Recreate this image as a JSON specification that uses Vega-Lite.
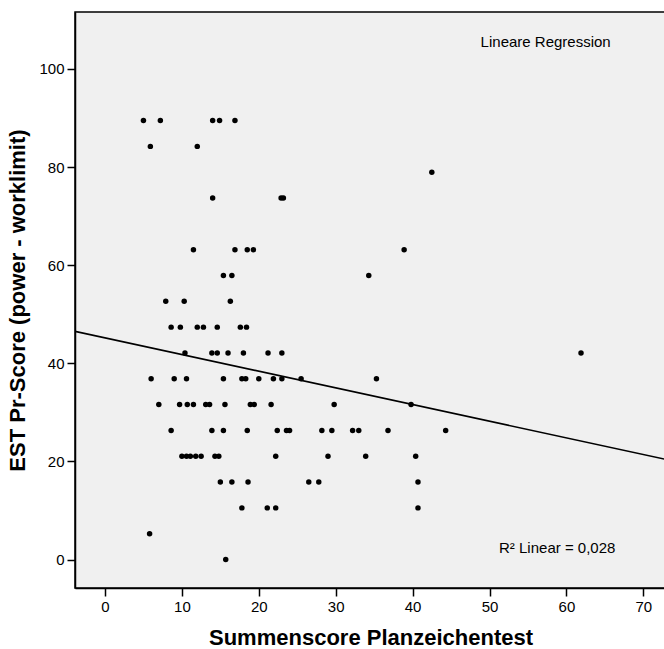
{
  "$schema": "https://vega.github.io/schema/vega-lite/v6.json",
  "width": 591,
  "height": 576,
  "autosize": "none",
  "padding": {"left": 75, "top": 12, "right": 0, "bottom": 61},
  "background": "white",
  "config": {
    "font": "Liberation Sans",
    "view": {"fill": "#f0f0f0", "stroke": "black", "strokeWidth": 1.5},
    "axis": {
      "grid": false,
      "domainColor": "black",
      "domainWidth": 1.5,
      "tickColor": "black",
      "tickWidth": 1.5,
      "tickSize": 8,
      "labelColor": "black",
      "labelFontSize": 15,
      "labelFont": "Liberation Sans",
      "titleColor": "black",
      "titleFont": "Liberation Sans",
      "titleFontSize": 22,
      "titleFontWeight": "bold"
    }
  },
  "datasets": {
    "points": [
      {"score": 5.0, "est": 89.47}, {"score": 7.2, "est": 89.47}, {"score": 14.0, "est": 89.47}, {"score": 14.9, "est": 89.47}, {"score": 16.9, "est": 89.47},
      {"score": 5.9, "est": 84.21}, {"score": 12.0, "est": 84.21},
      {"score": 42.5, "est": 78.95},
      {"score": 14.0, "est": 73.68}, {"score": 22.9, "est": 73.68}, {"score": 23.2, "est": 73.68},
      {"score": 11.5, "est": 63.16}, {"score": 16.9, "est": 63.16}, {"score": 18.5, "est": 63.16}, {"score": 19.3, "est": 63.16}, {"score": 38.9, "est": 63.16},
      {"score": 15.4, "est": 57.89}, {"score": 16.5, "est": 57.89}, {"score": 34.3, "est": 57.89},
      {"score": 7.9, "est": 52.63}, {"score": 10.3, "est": 52.63}, {"score": 16.3, "est": 52.63},
      {"score": 8.6, "est": 47.37}, {"score": 9.8, "est": 47.37}, {"score": 12.0, "est": 47.37}, {"score": 12.8, "est": 47.37}, {"score": 14.6, "est": 47.37}, {"score": 17.6, "est": 47.37}, {"score": 18.4, "est": 47.37},
      {"score": 10.4, "est": 42.11}, {"score": 13.9, "est": 42.11}, {"score": 14.6, "est": 42.11}, {"score": 16.0, "est": 42.11}, {"score": 18.0, "est": 42.11}, {"score": 21.2, "est": 42.11}, {"score": 23.0, "est": 42.11}, {"score": 61.9, "est": 42.11},
      {"score": 6.0, "est": 36.84}, {"score": 9.0, "est": 36.84}, {"score": 10.6, "est": 36.84}, {"score": 15.4, "est": 36.84}, {"score": 17.8, "est": 36.84}, {"score": 18.3, "est": 36.84}, {"score": 20.0, "est": 36.84}, {"score": 21.9, "est": 36.84}, {"score": 23.0, "est": 36.84}, {"score": 25.5, "est": 36.84}, {"score": 35.3, "est": 36.84},
      {"score": 7.0, "est": 31.58}, {"score": 9.7, "est": 31.58}, {"score": 10.7, "est": 31.58}, {"score": 11.5, "est": 31.58}, {"score": 13.1, "est": 31.58}, {"score": 13.6, "est": 31.58}, {"score": 15.6, "est": 31.58}, {"score": 18.9, "est": 31.58}, {"score": 19.4, "est": 31.58}, {"score": 21.6, "est": 31.58}, {"score": 29.8, "est": 31.58}, {"score": 39.8, "est": 31.58},
      {"score": 8.6, "est": 26.32}, {"score": 13.9, "est": 26.32}, {"score": 15.4, "est": 26.32}, {"score": 18.5, "est": 26.32}, {"score": 22.4, "est": 26.32}, {"score": 23.6, "est": 26.32}, {"score": 24.0, "est": 26.32}, {"score": 28.2, "est": 26.32}, {"score": 29.5, "est": 26.32}, {"score": 32.2, "est": 26.32}, {"score": 33.0, "est": 26.32}, {"score": 36.8, "est": 26.32}, {"score": 44.3, "est": 26.32},
      {"score": 10.0, "est": 21.05}, {"score": 10.6, "est": 21.05}, {"score": 11.1, "est": 21.05}, {"score": 11.8, "est": 21.05}, {"score": 12.5, "est": 21.05}, {"score": 14.3, "est": 21.05}, {"score": 14.8, "est": 21.05}, {"score": 22.2, "est": 21.05}, {"score": 29.0, "est": 21.05}, {"score": 33.9, "est": 21.05}, {"score": 40.4, "est": 21.05},
      {"score": 15.0, "est": 15.79}, {"score": 16.5, "est": 15.79}, {"score": 18.6, "est": 15.79}, {"score": 26.5, "est": 15.79}, {"score": 27.8, "est": 15.79}, {"score": 40.7, "est": 15.79},
      {"score": 17.8, "est": 10.53}, {"score": 21.1, "est": 10.53}, {"score": 22.2, "est": 10.53}, {"score": 40.7, "est": 10.53},
      {"score": 5.8, "est": 5.26},
      {"score": 15.7, "est": 0}
    ],
    "fit": [
      {"score": -3.9, "est": 46.5},
      {"score": 72.95, "est": 20.4}
    ],
    "notes": [
      {"score": 57.3, "est": 105.4, "label": "Lineare Regression"},
      {"score": 58.8, "est": 2.3, "label": "R² Linear = 0,028"}
    ]
  },
  "encoding": {
    "x": {
      "field": "score",
      "type": "quantitative",
      "title": "Summenscore Planzeichentest",
      "scale": {"domain": [-3.9, 72.95], "nice": false, "zero": false},
      "axis": {"values": [0, 10, 20, 30, 40, 50, 60, 70], "labelPadding": 3, "titlePadding": 13}
    },
    "y": {
      "field": "est",
      "type": "quantitative",
      "title": "EST Pr-Score (power - worklimit)",
      "scale": {"domain": [-5.8, 111.6], "nice": false, "zero": false},
      "axis": {"values": [0, 20, 40, 60, 80, 100], "labelPadding": 3, "titlePadding": 9}
    }
  },
  "layer": [
    {
      "data": {"name": "points"},
      "mark": {"type": "circle", "size": 30, "color": "black", "opacity": 1}
    },
    {
      "data": {"name": "fit"},
      "mark": {"type": "line", "color": "black", "strokeWidth": 1.6, "clip": true}
    },
    {
      "data": {"name": "notes"},
      "mark": {"type": "text", "fontSize": 15, "color": "black", "font": "Liberation Sans"},
      "encoding": {"text": {"field": "label"}}
    }
  ]
}
